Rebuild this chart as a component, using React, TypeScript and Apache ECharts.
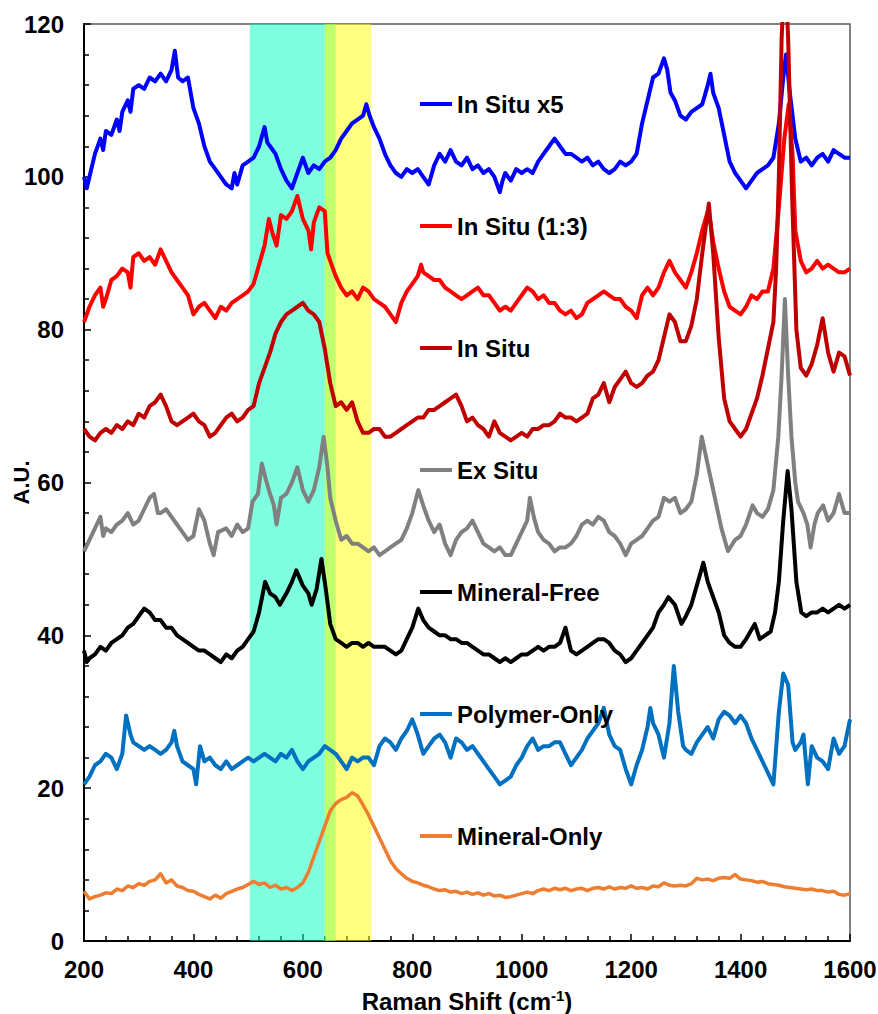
import React, { useEffect, useRef } from "react";
import * as echarts from "echarts";

const FONT = 'Arial, "Liberation Sans", Helvetica, sans-serif';

const seriesNames = ["In Situ x5", "In Situ (1:3)", "In Situ", "Ex Situ", "Mineral-Free", "Polymer-Only", "Mineral-Only"];
const seriesColors = ["#0000FF", "#FF0000", "#C00000", "#808080", "#000000", "#0070C0", "#ED7D31"];

const cyanBand = [503, 660];
const yellowBand = [640, 725];

const inSituX5 = [[200,100],[205,98.5],[210,100],[220,103],[230,105],[235,103.5],[240,106],[250,105.5],[260,107.5],[265,106],[270,108.5],[280,110],[285,108.5],[290,111.5],[300,112],[310,111.5],[320,113],[330,112.5],[340,113.5],[350,112.5],[360,114],[366,116.5],[372,113],[380,112.5],[390,113],[395,111],[400,109],[410,107],[420,104],[430,102],[440,101],[450,100],[460,99],[470,98.5],[475,100.5],[480,99],[490,101.5],[500,102],[510,102.5],[520,104],[530,106.5],[535,104.5],[540,104],[550,103],[560,101],[570,99.5],[580,98.5],[590,100.5],[600,102.5],[610,100.5],[620,101.5],[630,101],[640,102],[650,102.5],[660,103.5],[670,105],[680,106],[690,107],[700,107.5],[710,108],[716,109.5],[722,108],[730,106.5],[740,105],[750,103],[760,101.5],[770,100.5],[780,100],[790,101],[800,100.5],[810,101],[820,100],[830,99],[840,101.5],[850,103],[860,102],[870,103.5],[880,102],[890,101.5],[900,102.5],[910,101],[920,101.5],[930,100.5],[940,101],[950,100],[960,98],[965,99.5],[970,100.5],[980,99.5],[990,101],[1000,100.5],[1010,101],[1020,100.5],[1030,102],[1040,103],[1050,104],[1060,105],[1070,104],[1080,103],[1090,103],[1100,102.5],[1110,102],[1120,102.5],[1130,101.5],[1140,102],[1150,101],[1160,100.5],[1170,101],[1180,102],[1190,101.5],[1200,102],[1210,103],[1220,107],[1230,110],[1240,113],[1250,113.5],[1260,115.5],[1266,114],[1272,111],[1280,110],[1290,108],[1300,107.5],[1310,108.5],[1320,109],[1330,109.5],[1340,112],[1345,113.5],[1350,111],[1360,109],[1370,105.5],[1380,102],[1390,100.5],[1400,99.5],[1410,98.5],[1420,99.5],[1430,100.5],[1440,101],[1450,101.5],[1460,102.5],[1470,107],[1478,113],[1483,116],[1490,111],[1500,105],[1510,102],[1520,102.5],[1530,101.5],[1540,102.5],[1550,103],[1560,102],[1570,103.5],[1580,103],[1590,102.5],[1600,102.5]];

const inSitu13 = [[200,81],[210,83],[220,84.5],[230,85.5],[235,83],[240,84],[250,86.5],[260,87],[270,88],[280,87.5],[285,85.5],[290,89.5],[300,90],[310,89],[320,89.5],[330,88.5],[340,90.5],[350,89],[360,87.5],[370,86.5],[380,85.5],[390,84.5],[400,82],[410,83],[420,83.5],[430,82.5],[440,81.5],[450,83],[460,82.5],[470,83.5],[480,84],[490,84.5],[500,85],[510,86],[520,88.5],[530,91],[538,94.5],[545,92.5],[552,91],[560,95],[570,94.5],[580,95.5],[590,97.5],[600,94.5],[610,93],[615,90.5],[620,94],[630,96],[640,95.5],[645,90],[650,89],[660,87],[670,85.5],[680,84.5],[690,85],[700,84],[710,85.5],[720,85],[730,84],[740,83.5],[750,83],[760,82],[770,81],[780,83.5],[790,85],[800,86],[810,87],[816,88.5],[820,87.5],[830,87],[840,86.5],[850,86.5],[860,85.5],[870,85],[880,84.5],[890,84],[900,84.5],[910,85],[920,85.5],[930,84.5],[940,84.5],[950,83.5],[960,82.5],[970,83],[980,82.5],[990,83.5],[1000,84.5],[1010,85.5],[1020,85],[1030,84],[1040,84.5],[1050,83.5],[1060,83.5],[1070,82.5],[1080,82],[1090,82.5],[1100,81.5],[1110,82],[1120,83.5],[1130,84],[1140,84.5],[1150,85],[1160,84.5],[1170,84],[1180,84],[1190,83],[1200,82.5],[1210,81.5],[1220,84.5],[1230,85.5],[1240,84.5],[1250,85.5],[1260,87.5],[1270,89],[1280,87.5],[1290,86.5],[1300,85.5],[1310,87.5],[1320,90],[1330,93],[1340,95.5],[1345,94],[1350,91.5],[1360,88],[1370,85],[1380,83],[1390,82.5],[1400,82],[1410,83],[1420,84.5],[1430,84],[1440,85],[1450,85],[1460,88],[1470,96],[1480,105],[1488,109.5],[1495,103],[1500,93],[1510,89],[1520,87.5],[1530,88],[1540,89],[1550,88],[1560,88.5],[1570,88],[1580,87.5],[1590,87.5],[1600,88]];

const inSitu = [[200,67],[210,66],[220,65.5],[230,66.5],[240,67],[250,66.5],[260,67.5],[270,67],[280,68],[290,67.5],[300,69],[310,68.5],[320,70],[330,70.5],[340,71.5],[350,70],[360,68],[370,67.5],[380,68],[390,68.5],[400,69],[410,68],[420,67.5],[430,66],[440,66.5],[450,67.5],[460,68.5],[470,69],[480,68],[490,68.5],[500,69.5],[510,70],[520,73],[530,75],[540,77],[550,79.5],[560,81],[570,82],[580,82.5],[590,83],[600,83.5],[610,82.5],[620,82],[630,81],[640,77.5],[650,73],[660,70],[670,70.5],[680,69.5],[690,70.5],[700,68],[710,66.5],[720,66.5],[730,67],[740,67],[750,66],[760,66],[770,66.5],[780,67],[790,67.5],[800,68],[810,68.5],[820,68.5],[830,69.5],[840,69.5],[850,70],[860,70.5],[870,71],[880,71.5],[890,70],[900,68],[910,68.5],[920,67.5],[930,67],[940,66],[950,68],[960,66.5],[970,66],[980,65.5],[990,66],[1000,66.5],[1010,66],[1020,67],[1030,67],[1040,67.5],[1050,67.5],[1060,68],[1070,69],[1080,68.5],[1090,68.5],[1100,68],[1110,68.5],[1120,69],[1130,71],[1140,71.5],[1150,73],[1160,70.5],[1170,72.5],[1180,73.5],[1190,74.5],[1200,73],[1210,72.5],[1220,73],[1230,74],[1240,74.5],[1250,76],[1260,79],[1270,82],[1280,81],[1290,78.5],[1300,78.5],[1310,80.5],[1320,84],[1330,90],[1342,96.5],[1350,90],[1360,79],[1370,71],[1380,68],[1390,67],[1400,66],[1410,67],[1420,69],[1430,71],[1440,74],[1450,77.5],[1460,81],[1465,88],[1470,100],[1475,118],[1481,128],[1487,118],[1494,98],[1502,80],[1510,75],[1520,74],[1530,75.5],[1540,78],[1550,81.5],[1560,77],[1570,74.5],[1580,77],[1590,76.5],[1600,74]];

const exSitu = [[200,51],[210,52.5],[220,54],[230,55.5],[235,53],[240,54],[250,53.5],[260,54.5],[270,55],[280,56],[290,54.5],[300,55],[310,56.5],[320,58],[328,58.5],[335,56],[340,56],[350,56.5],[360,55.5],[370,54.5],[380,53.5],[390,52.5],[400,53],[410,56.5],[420,55],[430,52],[437,50.5],[445,53.5],[460,54],[470,53],[480,54.5],[490,53.5],[500,54],[508,57.5],[518,58.5],[525,62.5],[532,60.5],[540,58.5],[547,57],[552,54.5],[560,58],[570,58.5],[580,60],[590,62],[600,59],[610,57.5],[620,59],[630,62],[638,66],[645,62],[650,58],[660,55],[670,52.5],[680,53],[690,52],[700,52],[710,51.5],[720,51],[730,51.5],[740,50.5],[750,51],[760,51.5],[770,52],[780,52.5],[790,54],[800,56],[811,59],[820,57],[830,55],[840,53.5],[850,54.5],[860,52],[870,50.5],[880,52.5],[890,53.5],[900,54],[910,55],[920,53.5],[930,52],[940,51.5],[950,51],[960,51.5],[970,50.5],[980,50.5],[990,52],[1000,53.5],[1010,55],[1015,58],[1022,55.5],[1030,53.5],[1040,52.5],[1050,52],[1060,51],[1070,51.5],[1080,51.5],[1090,52],[1100,53],[1110,54.5],[1120,55],[1130,54.5],[1140,55.5],[1150,55],[1160,53.5],[1170,53],[1180,52],[1190,50.5],[1200,52],[1210,52.5],[1220,53],[1230,54],[1240,55],[1250,55.5],[1260,58],[1270,57.5],[1280,58],[1290,56],[1300,56.5],[1310,57.5],[1320,61],[1329,66],[1338,63],[1347,60],[1356,57],[1365,54],[1377,51],[1390,52.5],[1400,53],[1410,54.5],[1422,57],[1430,56],[1440,55.5],[1450,56.5],[1460,59],[1469,66],[1475,74],[1481,84],[1487,74],[1493,66],[1500,60],[1505,57.5],[1515,56],[1522,54.5],[1528,51.5],[1535,54.5],[1541,56],[1551,57],[1560,55],[1570,56],[1580,58.5],[1590,56],[1600,56]];

const mineralFree = [[200,38],[205,36.5],[210,37],[220,37.5],[230,38.5],[240,38],[250,39],[260,39.5],[270,40],[280,41],[290,41.5],[300,42.5],[310,43.5],[320,43],[330,42],[340,42],[350,41],[360,41],[370,40],[380,39.5],[390,39],[400,38.5],[410,38],[420,38],[430,37.5],[440,37],[450,36.5],[460,37.5],[470,37],[480,38],[490,38.5],[500,39.5],[510,40.5],[520,43],[531,47],[540,45.5],[550,45],[558,44],[570,45.5],[580,47],[588,48.5],[600,46.5],[610,45.5],[616,44],[625,46],[634,50],[642,46],[650,41.5],[660,39.5],[670,39],[680,38.5],[690,39],[700,39],[710,38.5],[720,39],[730,38.5],[740,38.5],[750,38.5],[760,38],[770,37.5],[780,38],[790,39.5],[800,41],[811,43.5],[820,42],[830,41],[840,40.5],[850,40],[860,40],[870,39.5],[880,39.5],[890,39],[900,39],[910,38.5],[920,38],[930,37.5],[940,37.5],[950,37],[960,36.5],[970,37],[980,36.5],[990,37],[1000,37.5],[1010,37.5],[1020,38],[1030,38.5],[1040,38],[1050,38.5],[1060,38.5],[1070,39],[1080,41],[1090,38],[1100,37.5],[1110,38],[1120,38.5],[1130,39],[1140,39.5],[1150,39.5],[1160,39],[1170,38],[1180,37.5],[1190,36.5],[1200,37],[1210,38],[1220,39],[1230,40],[1240,41],[1250,43],[1260,44],[1268,45],[1280,44],[1292,41.5],[1300,42.5],[1310,44],[1320,46.5],[1332,49.5],[1340,47],[1350,45],[1360,43],[1370,40],[1380,39],[1390,38.5],[1400,38.5],[1410,39.5],[1426,41.5],[1435,39.5],[1445,40],[1455,40.5],[1463,43],[1470,47],[1478,55],[1486,61.5],[1493,56.5],[1502,47],[1511,43],[1520,42.5],[1530,43],[1540,43],[1550,43.5],[1560,43],[1570,43.5],[1580,44],[1590,43.5],[1600,44]];

const polymerOnly = [[200,20.5],[210,21.5],[220,23],[230,23.5],[240,24.5],[250,24],[260,22.5],[270,24.5],[277,29.5],[285,27],[290,26],[300,25.5],[310,25],[320,25.5],[330,25],[340,24.5],[350,25],[360,26],[365,27.5],[370,25.5],[380,23.5],[390,23],[400,22.5],[405,20.5],[412,25.5],[420,23.5],[430,24],[440,23],[450,22.5],[460,23.5],[470,22.5],[480,23],[490,23.5],[500,24],[510,23.5],[520,24],[530,24.5],[540,24],[550,23.5],[560,24.5],[570,24],[580,25],[590,23.5],[600,22.5],[610,23.5],[620,24],[630,24.5],[640,25.5],[650,25],[660,24.5],[670,23.5],[680,22.5],[690,24],[700,23.5],[710,24],[720,24],[730,23],[740,25.5],[750,26.5],[760,26],[770,25],[780,26.5],[790,27.5],[800,29],[810,27],[820,24.5],[830,25.5],[840,26.5],[850,27],[860,26],[870,24],[880,26.5],[890,26],[900,25],[910,25.5],[920,24.5],[930,23.5],[940,22.5],[950,21.5],[960,20.5],[970,21],[980,21.5],[990,23],[1000,24],[1010,25.5],[1020,26.5],[1030,25],[1040,25.5],[1050,25.5],[1060,26],[1070,26],[1080,24.5],[1090,23],[1100,24],[1110,25],[1120,26.5],[1130,27.5],[1140,28.5],[1150,30.5],[1160,27],[1170,25.5],[1180,25],[1190,22.5],[1200,20.5],[1210,23],[1220,25],[1230,28],[1235,30.5],[1240,28.5],[1250,27],[1260,24],[1270,28.5],[1278,36],[1286,30],[1295,25.5],[1300,25],[1310,24.5],[1320,26],[1330,27],[1340,28],[1350,26.5],[1360,29],[1370,30],[1380,29.5],[1390,28.5],[1400,29.5],[1410,28.5],[1420,26.5],[1430,25],[1440,23.5],[1450,22],[1460,20.5],[1470,30],[1478,35],[1487,33.5],[1495,26],[1500,25],[1510,26],[1515,27],[1523,20.5],[1530,25.5],[1540,24],[1550,23.5],[1560,22.5],[1570,26.5],[1580,24.5],[1590,25.5],[1600,29]];

const mineralOnly = [[200,6.5],[210,5.5],[220,5.8],[230,6],[240,6.3],[250,6.2],[260,6.8],[270,6.6],[280,7.2],[290,7],[300,7.5],[310,7.3],[320,7.8],[330,8],[340,8.8],[350,7.6],[360,8],[370,7.2],[380,7],[390,6.6],[400,6.5],[410,6.1],[420,5.8],[430,5.5],[440,6],[450,5.6],[460,6.2],[470,6.5],[480,6.8],[490,7],[500,7.4],[510,7.8],[520,7.4],[530,7.6],[540,7],[550,7.3],[560,6.8],[570,7],[580,6.6],[590,7],[600,7.6],[610,9],[620,11],[630,13],[640,15],[650,17],[660,18],[670,18.5],[680,18.8],[690,19.4],[700,19],[710,17.8],[720,16.5],[730,15],[740,13.5],[750,12],[760,10.5],[770,9.5],[780,8.8],[790,8.2],[800,7.8],[810,7.6],[820,7.3],[830,7.1],[840,6.8],[850,6.6],[860,6.7],[870,6.4],[880,6.5],[890,6.2],[900,6.4],[910,6.1],[920,6.3],[930,6],[940,6.2],[950,5.9],[960,6],[970,5.7],[980,5.8],[990,6],[1000,6.2],[1010,6.4],[1020,6.2],[1030,6.6],[1040,6.8],[1050,6.6],[1060,6.9],[1070,6.7],[1080,6.9],[1090,6.6],[1100,6.8],[1110,6.9],[1120,6.6],[1130,6.9],[1140,7],[1150,6.8],[1160,7.1],[1170,6.8],[1180,7],[1190,6.9],[1200,7.2],[1210,6.9],[1220,7],[1230,6.8],[1240,7.2],[1250,7.1],[1260,7.6],[1270,7.3],[1280,7.2],[1290,7.3],[1300,7.2],[1310,7.5],[1320,8.2],[1330,8],[1340,8.1],[1350,7.9],[1360,8.2],[1370,8.3],[1380,8.2],[1390,8.7],[1400,8.1],[1410,8],[1420,7.9],[1430,7.7],[1440,7.8],[1450,7.5],[1460,7.4],[1470,7.3],[1480,7.1],[1490,7],[1500,6.9],[1510,6.8],[1520,6.7],[1530,6.8],[1540,6.6],[1550,6.6],[1560,6.4],[1570,6.5],[1580,6.1],[1590,6],[1600,6.2]];

const seriesData = [inSituX5, inSitu13, inSitu, exSitu, mineralFree, polymerOnly, mineralOnly];

export default function App() {
  const ref = useRef<HTMLDivElement>(null);
  useEffect(() => {
    if (!ref.current) return;
    const chart = echarts.init(ref.current, undefined, { renderer: "svg" });
    const axisLabelStyle = { fontFamily: FONT, fontSize: 24, fontWeight: "bold", color: "#000" };
    const series = seriesNames.map((name, i) => {
      const s: any = {
        name,
        type: "line",
        data: seriesData[i],
        symbol: "none",
        showSymbol: false,
        clip: true,
        lineStyle: { width: i === 6 ? 3.5 : 4, color: seriesColors[i], join: "round" },
        itemStyle: { color: seriesColors[i] },
        emphasis: { disabled: true },
      };
      if (i === 0) {
        s.markArea = {
          silent: true,
          data: [
            [{ xAxis: cyanBand[0], itemStyle: { color: "rgba(0,255,192,0.5)" } }, { xAxis: cyanBand[1] }],
            [{ xAxis: yellowBand[0], itemStyle: { color: "rgba(255,255,0,0.5)" } }, { xAxis: yellowBand[1] }],
          ],
        };
      }
      return s;
    });
    chart.setOption({
      animation: false,
      grid: {
        left: 84, right: 28, top: 24, bottom: 73, show: true,
        borderColor: "#595959", borderWidth: 1.5, containLabel: false, outerBoundsMode: "none",
      },
      legend: {
        data: seriesNames,
        orient: "vertical",
        left: 415,
        top: 87,
        icon: "rect",
        itemWidth: 32,
        itemHeight: 4,
        itemGap: 98,
        selectedMode: false,
        textStyle: { fontFamily: FONT, fontSize: 24, fontWeight: "bold", color: "#000", lineHeight: 24 },
      },
      xAxis: {
        type: "value",
        min: 200,
        max: 1600,
        interval: 200,
        name: "Raman Shift (cm{sup|-1})",
        nameLocation: "middle",
        nameGap: 47,
        nameMoveOverlap: false,
        nameTextStyle: {
          fontFamily: FONT, fontSize: 24, fontWeight: "bold", color: "#000", lineHeight: 26,
          rich: { sup: { fontFamily: FONT, fontSize: 15, fontWeight: "bold", color: "#000", lineHeight: 15, verticalAlign: "top" } },
        },
        axisLine: { show: true, onZero: false, lineStyle: { color: "#000", width: 2 } },
        axisTick: { show: true, inside: true, length: 7, lineStyle: { color: "#000", width: 1.5 } },
        minorTick: { show: true, splitNumber: 5, length: 5, lineStyle: { color: "#000", width: 1.5 } },
        splitLine: { show: false },
        axisLabel: { ...axisLabelStyle, margin: 16, formatter: (v: number) => String(v) },
      },
      yAxis: {
        type: "value",
        min: 0,
        max: 120,
        interval: 20,
        name: "A.U.",
        nameLocation: "middle",
        nameGap: 52,
        nameMoveOverlap: false,
        nameTextStyle: { fontFamily: FONT, fontSize: 22, fontWeight: "bold", color: "#000" },
        axisLine: { show: true, onZero: false, lineStyle: { color: "#000", width: 2 } },
        axisTick: { show: true, inside: true, length: 7, lineStyle: { color: "#000", width: 1.5 } },
        minorTick: { show: true, splitNumber: 5, length: 5, lineStyle: { color: "#000", width: 1.5 } },
        splitLine: { show: false },
        axisLabel: { ...axisLabelStyle, margin: 20, formatter: (v: number) => String(v) },
      },
      series,
    });
    return () => chart.dispose();
  }, []);
  return <div ref={ref} style={{ position: "absolute", left: 0, top: 0, width: 878, height: 1014 }} />;
}
